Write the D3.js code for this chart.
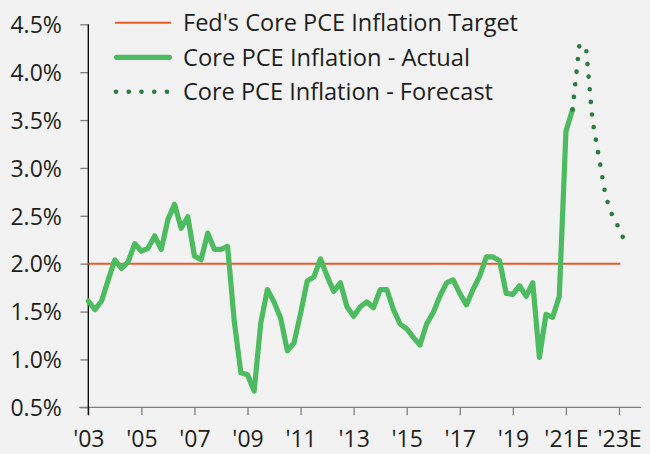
<!DOCTYPE html>
<html>
<head>
<meta charset="utf-8">
<script src="https://cdn.jsdelivr.net/npm/d3@7"></script>
<style>
  html, body { margin: 0; padding: 0; background: #f2f2f2; }
  svg { display: block; }
  text { font-family: "Open Sans", "Noto Sans", sans-serif; fill: #1e1e1e; }
</style>
</head>
<body>
<svg id="chart" width="650" height="454"></svg>
<script>
// ---------- data ----------
const actualStartYear = 2003;          // first quarter of the actual series (Q1 2003)
const actualValues = [
  1.61, 1.52, 1.61, 1.83,   // 2003
  2.04, 1.95, 2.02, 2.21,   // 2004
  2.13, 2.16, 2.29, 2.15,   // 2005
  2.46, 2.62, 2.37, 2.49,   // 2006
  2.08, 2.04, 2.32, 2.15,   // 2007
  2.15, 2.18, 1.40, 0.86,   // 2008
  0.84, 0.67, 1.38, 1.73,   // 2009
  1.60, 1.43, 1.09, 1.17,   // 2010
  1.48, 1.82, 1.86, 2.05,   // 2011
  1.87, 1.71, 1.80, 1.55,   // 2012
  1.45, 1.55, 1.60, 1.54,   // 2013
  1.73, 1.73, 1.52, 1.37,   // 2014
  1.32, 1.23, 1.15, 1.37,   // 2015
  1.49, 1.66, 1.80, 1.83,   // 2016
  1.69, 1.57, 1.73, 1.87,   // 2017
  2.07, 2.07, 2.03, 1.69,   // 2018
  1.68, 1.77, 1.66, 1.80,   // 2019
  1.02, 1.47, 1.44, 1.66,   // 2020
  3.38, 3.61                // 2021
];
const forecastStartYear = 2021.25;     // forecast starts at the last actual quarter
const forecastValues = [3.61, 4.27, 4.28, 3.50, 3.10, 2.70, 2.50, 2.37, 2.21];
const targetValue = 2.0;
const targetSpan = [2003, 2023.05];
const yTicks = [0.5, 1.0, 1.5, 2.0, 2.5, 3.0, 3.5, 4.0, 4.5];
const xTickYears = [2003, 2005, 2007, 2009, 2011, 2013, 2015, 2017, 2019, 2021, 2023];
const xTickLabels = ["'03", "'05", "'07", "'09", "'11", "'13", "'15", "'17", "'19", "'21E", "'23E"];
const legendLabels = ["Fed's Core PCE Inflation Target", "Core PCE Inflation - Actual", "Core PCE Inflation - Forecast"];

// ---------- build series ----------
const actual = actualValues.map((v, i) => ({ t: actualStartYear + i * 0.25, v }));
const forecast = forecastValues.map((v, i) => ({ t: forecastStartYear + i * 0.25, v }));

// ---------- layout ----------
const svg = d3.select("#chart");
const x = d3.scaleLinear().domain([2003, 2023]).range([88.3, 619]);
const y = d3.scaleLinear().domain([0.5, 4.5]).range([407.3, 24.3]);

const colTarget = "#ec5a2c";
const colActual = "#4dbb5f";
const colForecast = "#2b7a3f";
const fontSize = 23;

svg.append("rect").attr("width", 650).attr("height", 454).attr("fill", "#f2f2f2");

// x axis
const xAxis = d3.axisBottom(x)
  .tickValues(xTickYears)
  .tickFormat((d, i) => xTickLabels[i])
  .tickSize(8).tickSizeOuter(0).tickPadding(18);
const gx = svg.append("g").attr("transform", `translate(0,${y(0.5)})`).call(xAxis);
gx.select(".domain").remove();
gx.selectAll(".tick line").attr("stroke", "#808080").attr("stroke-width", 1.3);
gx.selectAll(".tick text").attr("font-size", fontSize).attr("fill", "#1e1e1e")
  .attr("font-family", '"Open Sans", sans-serif').attr("dy", "0.6em");
svg.append("line")
  .attr("x1", 79.3).attr("x2", 641)
  .attr("y1", y(0.5)).attr("y2", y(0.5))
  .attr("stroke", "#808080").attr("stroke-width", 1.3);

// y axis
const yAxis = d3.axisLeft(y)
  .tickValues(yTicks)
  .tickFormat(d => d.toFixed(1) + "%")
  .tickSize(8).tickSizeOuter(0).tickPadding(18.5);
const gy = svg.append("g").attr("transform", `translate(${x(2003)},0)`).call(yAxis);
gy.select(".domain").remove();
gy.selectAll(".tick line").attr("stroke", "#808080").attr("stroke-width", 1.3);
gy.selectAll(".tick text").attr("font-size", fontSize).attr("fill", "#1e1e1e")
  .attr("font-family", '"Open Sans", sans-serif').attr("dy", "0.36em");
svg.append("line")
  .attr("x1", x(2003)).attr("x2", x(2003))
  .attr("y1", y(4.5)).attr("y2", y(0.5) + 8)
  .attr("stroke", "#000").attr("stroke-width", 1.3);

// target line
svg.append("line")
  .attr("x1", x(targetSpan[0])).attr("x2", x(targetSpan[1]))
  .attr("y1", y(targetValue)).attr("y2", y(targetValue))
  .attr("stroke", colTarget).attr("stroke-width", 2);

const line = d3.line().x(d => x(d.t)).y(d => y(d.v));

// actual
svg.append("path").datum(actual)
  .attr("d", line).attr("fill", "none")
  .attr("stroke", colActual).attr("stroke-width", 5.2)
  .attr("stroke-linejoin", "round").attr("stroke-linecap", "round");

// forecast (dotted)
svg.append("path").datum(forecast)
  .attr("d", line).attr("fill", "none")
  .attr("stroke", colForecast).attr("stroke-width", 4.6)
  .attr("stroke-dasharray", "0 12.7")
  .attr("stroke-linecap", "round");

// legend
const legendX1 = 115, legendX2 = 171, legendTextX = 183;
const legendRowY = [22.7, 57.3, 91.8];
const legendWidths = [335, 287, 310];
const lg = svg.append("g");
lg.append("line").attr("x1", legendX1).attr("x2", legendX2)
  .attr("y1", legendRowY[0]).attr("y2", legendRowY[0])
  .attr("stroke", colTarget).attr("stroke-width", 2);
lg.append("line").attr("x1", legendX1 + 1.5).attr("x2", legendX2 - 1.5)
  .attr("y1", legendRowY[1]).attr("y2", legendRowY[1])
  .attr("stroke", colActual).attr("stroke-width", 5.2).attr("stroke-linecap", "round");
lg.append("line").attr("x1", 116).attr("x2", 168)
  .attr("y1", legendRowY[2]).attr("y2", legendRowY[2])
  .attr("stroke", colForecast).attr("stroke-width", 4.6)
  .attr("stroke-dasharray", "0 12.75").attr("stroke-linecap", "round");
legendLabels.forEach((t, i) => {
  const tx = lg.append("text")
    .attr("x", legendTextX).attr("y", legendRowY[i])
    .attr("dy", "0.36em")
    .attr("font-size", fontSize)
    .text(t);
  const w = tx.node().getComputedTextLength();
  if (Math.abs(w - legendWidths[i]) / legendWidths[i] < 0.12) {
    tx.attr("textLength", legendWidths[i]).attr("lengthAdjust", "spacingAndGlyphs");
  }
});
</script>
</body>
</html>
